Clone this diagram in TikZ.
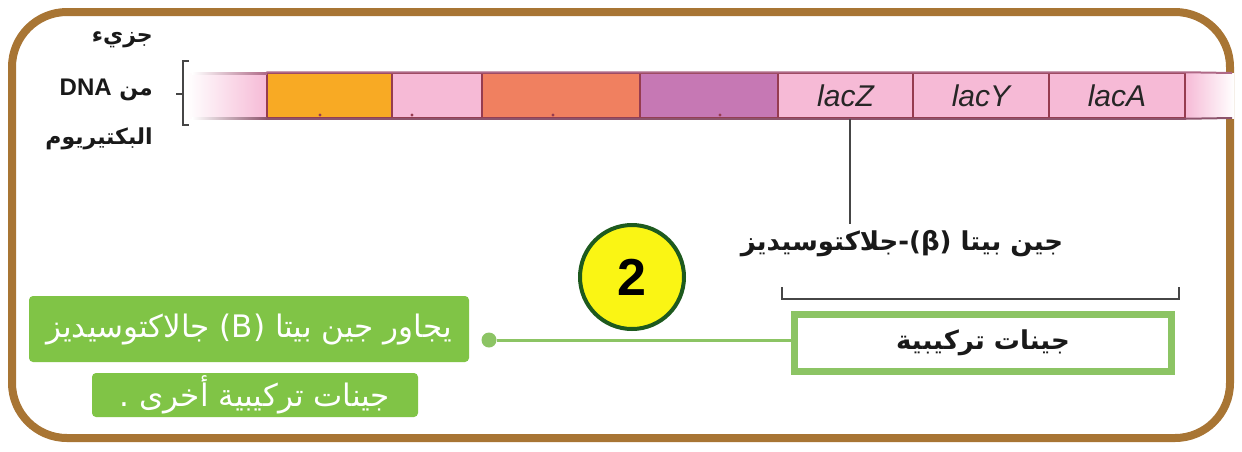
\documentclass[tikz,border=0pt]{standalone}
\usepackage{fontspec}
\setmainfont{Liberation Sans}
\newfontfamily\arabicfont[Script=Arabic]{DejaVu Sans}
\TeXXeTstate=1
\definecolor{framebrown}{RGB}{168,117,52}
\definecolor{genepink}{RGB}{246,186,214}
\definecolor{geneorange}{RGB}{248,170,36}
\definecolor{genesalmon}{RGB}{240,128,96}
\definecolor{genemauve}{RGB}{198,120,180}
\definecolor{divider}{RGB}{150,60,80}
\definecolor{edgeline}{RGB}{175,105,135}
\definecolor{leafgreen}{RGB}{128,196,70}
\definecolor{linegreen}{RGB}{140,196,100}
\definecolor{ringgreen}{RGB}{30,90,30}
\definecolor{sunyellow}{RGB}{250,245,20}
\definecolor{inkgray}{RGB}{70,70,70}
\begin{document}
\begin{tikzpicture}[x=1pt,y=-1pt,
  seg/.style={inner sep=0pt, minimum height=45pt, draw=divider, line width=1.5pt},
  genelabel/.style={font=\itshape\fontsize{30}{30}\selectfont, text=black!85},
  artext/.style={font=\arabicfont\bfseries\fontsize{22}{26}\selectfont, text=black!90, inner sep=0pt},
  notebox/.style={fill=leafgreen, rounded corners=4pt, inner sep=0pt,
    text=white, font=\arabicfont\fontsize{31}{36}\selectfont}]
\useasboundingbox (0,0) rectangle (1242,451);
\fill[white] (0,0) rectangle (1242,451);

% outer frame
\draw[framebrown, line width=8pt, rounded corners=55pt] (12,12) rectangle (1230,438);

% DNA strand: faded ends and coloured segments
\shade[left color=white, right color=genepink] (187,73) rectangle (267,118);
\shade[left color=genepink, right color=white] (1185,73) rectangle (1234,118);
\node[seg, fill=geneorange, minimum width=125pt] (s1) at (329.5,95.5) {};
\node[seg, fill=genepink, minimum width=90pt] (s2) at (437,95.5) {};
\node[seg, fill=genesalmon, minimum width=158pt] (s3) at (561,95.5) {};
\node[seg, fill=genemauve, minimum width=138pt] (s4) at (709,95.5) {};
\node[seg, fill=genepink, minimum width=135pt, genelabel] (lacZ) at (845.5,95.5) {lacZ};
\node[seg, fill=genepink, minimum width=136pt, genelabel] (lacY) at (981,95.5) {lacY};
\node[seg, fill=genepink, minimum width=136pt, genelabel] (lacA) at (1117,95.5) {lacA};
\shade[left color=white, right color=edgeline] (192,72) rectangle (267,74);
\shade[left color=white, right color=edgeline!80!black] (192,117) rectangle (267,119);
\draw[edgeline, line width=2pt] (s1.north west) -- (lacA.north east) -- (1232,73);
\draw[edgeline!80!black, line width=2pt] (s1.south west) -- (lacA.south east) -- (1232,118);

% small marks along the lower edge
\foreach \mx in {320,412,553,720}
  \fill[divider] (\mx,115) circle (1.6pt);

% bracket beside the strand and its label
\coordinate (bt) at (189,61);
\coordinate (bb) at (189,125);
\draw[inkgray, line width=1.5pt] (bt) -- (183,61) -- (183,125) -- (bb);
\draw[inkgray, line width=1.5pt] (183,94) -- (176,94);
\node[artext, anchor=east] (w1) at (153,40) {\beginR جزيء\endR};
\node[artext, anchor=east] (w2) at (153,90) {\beginR من \beginL{\rmfamily\fontsize{24}{26}\selectfont DNA}\endL\endR};
\node[artext, anchor=east] (w3) at (153,139) {\beginR البكتيريوم\endR};

% beta-galactosidase gene label
\node[artext, font=\arabicfont\bfseries\fontsize{26}{30}\selectfont] (beta) at (902,244)
  {\beginR جين بيتا \beginL(β)\endL-جلاكتوسيديز\endR};
\draw[inkgray, line width=1.5pt] ([xshift=4.5pt]lacZ.south) -- ([xshift=4.5pt]lacZ.south |- 0,224);

% bracket over the structural genes
\coordinate (gl) at (782,287);
\coordinate (gr) at (1179,287);
\draw[inkgray, line width=1.8pt] (gl) -- (782,299) -- (1179,299) -- (gr);

% structural genes box
\node[draw=linegreen, line width=7pt, fill=white, minimum width=377pt, minimum height=57pt,
  font=\arabicfont\bfseries\fontsize{26}{30}\selectfont, text=black!90] (struct) at (983,343)
  {\beginR جينات تركيبية\endR};

% numbered badge
\node[circle, draw=ringgreen, line width=4pt, fill=sunyellow, minimum size=104pt,
  font=\bfseries\fontsize{52}{52}\selectfont] (two) at (632,277) {2};

% note with its connector
\node[notebox, minimum width=440pt, minimum height=66pt] (note1) at (249,329)
  {\beginR يجاور جين بيتا (B) جالاكتوسيديز\endR};
\node[notebox, minimum width=326pt, minimum height=44pt] (note2) at (255,395)
  {\beginR جينات تركيبية أخرى .\endR};
\node[circle, fill=linegreen, inner sep=0pt, minimum size=15pt] (dot) at (489,340) {};
\draw[linegreen, line width=3pt] (dot) -- (dot -| struct.west);
\end{tikzpicture}
\end{document}
